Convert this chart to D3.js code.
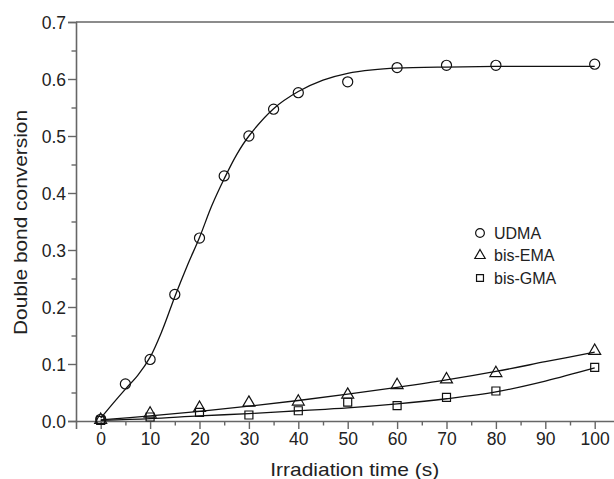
<!DOCTYPE html>
<html>
<head>
<meta charset="utf-8">
<script src="https://cdn.jsdelivr.net/npm/d3@7"></script>
<style>
  html, body { margin: 0; padding: 0; background: #fff; overflow: hidden; }
  svg { display: block; font-family: Arial, "Liberation Sans", Helvetica, sans-serif; }
</style>
</head>
<body>
<svg id="chart" width="614" height="479"></svg>
<script>
// Measured conversion values
const timeUDMA = [0, 5, 10, 15, 20, 25, 30, 35, 40, 50, 60, 70, 80, 100];
const convUDMA = [0.003, 0.065, 0.108, 0.222, 0.321, 0.430, 0.500, 0.547, 0.576, 0.595, 0.620, 0.624, 0.624, 0.626];

const timeBisEMA = [0, 10, 20, 30, 40, 50, 60, 70, 80, 100];
const convBisEMA = [0.002, 0.013, 0.023, 0.032, 0.034, 0.046, 0.063, 0.073, 0.084, 0.123];

const timeBisGMA = [0, 10, 20, 30, 40, 50, 60, 70, 80, 100];
const convBisGMA = [0.001, 0.007, 0.015, 0.0105, 0.018, 0.033, 0.027, 0.0415, 0.0526, 0.094];

// Fitted curves
const fitTimeUDMA = [0, 2.5, 5, 7.5, 10, 12.5, 15, 17.5, 20, 22.5, 25, 27.5, 30, 35, 40, 45, 50, 55, 60, 70, 80, 90, 100];
const fitUDMA = [0.005, 0.031, 0.056, 0.080, 0.112, 0.160, 0.218, 0.272, 0.322, 0.378, 0.425, 0.467, 0.500, 0.548, 0.578, 0.598, 0.610, 0.616, 0.619, 0.621, 0.622, 0.622, 0.622];

const fitTime = [0, 10, 20, 30, 40, 50, 60, 70, 80, 90, 100];
const fitBisEMA = [0.002, 0.009, 0.017, 0.026, 0.036, 0.047, 0.059, 0.072, 0.087, 0.104, 0.121];
const fitBisGMA = [0.001, 0.004, 0.009, 0.013, 0.018, 0.023, 0.030, 0.039, 0.051, 0.070, 0.093];

// Axis ticks
const xTicks = [0, 10, 20, 30, 40, 50, 60, 70, 80, 90, 100];
const xMinorTicks = [5, 15, 25, 35, 45, 55, 65, 75, 85, 95];
const yTicks = [0.0, 0.1, 0.2, 0.3, 0.4, 0.5, 0.6, 0.7];
const yMinorTicks = [0.05, 0.15, 0.25, 0.35, 0.45, 0.55, 0.65];

const seriesNames = ["UDMA", "bis-EMA", "bis-GMA"];

const svg = d3.select("#chart");
const axisColor = "#666";
const textColor = "#222";

const plotLeft = 76, plotTop = 22, plotBottom = 421;
const x = d3.scaleLinear().domain([-5, 105]).range([plotLeft, plotLeft + 110 * 4.94]);
const y = d3.scaleLinear().domain([0, 0.7]).range([plotBottom, plotTop]);

// Frame: top line and axes
svg.append("line")
  .attr("x1", x(-5)).attr("x2", x(105))
  .attr("y1", y(0.7)).attr("y2", y(0.7))
  .attr("stroke", axisColor).attr("stroke-width", 1.6);

const xAxis = svg.append("g").attr("transform", `translate(0,${plotBottom})`)
  .call(d3.axisBottom(x).tickValues(xTicks).tickSize(8).tickPadding(4).tickFormat(d3.format("d")));
const xMinor = svg.append("g").attr("transform", `translate(0,${plotBottom})`)
  .call(d3.axisBottom(x).tickValues(xMinorTicks).tickSize(4.5).tickFormat(""));

const yAxis = svg.append("g").attr("transform", `translate(${plotLeft},0)`)
  .call(d3.axisLeft(y).tickValues(yTicks).tickSize(8).tickPadding(2).tickFormat(d3.format(".1f")));
const yMinor = svg.append("g").attr("transform", `translate(${plotLeft},0)`)
  .call(d3.axisLeft(y).tickValues(yMinorTicks).tickSize(4.5).tickFormat(""));

[xAxis, xMinor, yAxis, yMinor].forEach(g => {
  g.select(".domain").attr("stroke", axisColor).attr("stroke-width", 1.6);
  g.selectAll(".tick line").attr("stroke", axisColor).attr("stroke-width", 1.4);
  g.selectAll(".tick text").attr("fill", textColor).style("font-size", "17.5px");
});
xMinor.select(".domain").remove();
yMinor.select(".domain").remove();
yAxis.selectAll(".tick text").attr("dy", "0.36em");

// Axis titles
svg.append("text")
  .attr("x", x(50) + 7).attr("y", 476)
  .attr("text-anchor", "middle")
  .attr("fill", textColor)
  .attr("textLength", 169).attr("lengthAdjust", "spacingAndGlyphs")
  .style("font-size", "19px")
  .text("Irradiation time (s)");

svg.append("text")
  .attr("transform", `translate(26.5,${(110 + 335) / 2}) rotate(-90)`)
  .attr("text-anchor", "middle")
  .attr("fill", textColor)
  .attr("textLength", 225).attr("lengthAdjust", "spacingAndGlyphs")
  .style("font-size", "19px")
  .text("Double bond conversion");

// Fitted lines
const line = d3.line().x(d => x(d[0])).y(d => y(d[1])).curve(d3.curveCatmullRom.alpha(0.5));
const fits = [
  d3.zip(fitTimeUDMA, fitUDMA),
  d3.zip(fitTime, fitBisEMA),
  d3.zip(fitTime, fitBisGMA)
];
svg.append("g").selectAll("path").data(fits).join("path")
  .attr("d", line)
  .attr("fill", "none")
  .attr("stroke", "#111")
  .attr("stroke-width", 1.3);

// Markers
const shapes = [d3.symbolCircle, d3.symbolTriangle, d3.symbolSquare];
const sizes = [80, 62, 64];
const points = [
  d3.zip(timeUDMA, convUDMA),
  d3.zip(timeBisEMA, convBisEMA),
  d3.zip(timeBisGMA, convBisGMA)
];
points.forEach((pts, i) => {
  svg.append("g").selectAll("path").data(pts).join("path")
    .attr("transform", d => `translate(${x(d[0])},${y(d[1])})`)
    .attr("d", d3.symbol().type(shapes[i]).size(sizes[i]))
    .attr("fill", "none")
    .attr("stroke", "#111")
    .attr("stroke-width", 1.2);
});

// Legend
const legend = svg.append("g").attr("transform", "translate(480,233)");
seriesNames.forEach((name, i) => {
  const g = legend.append("g").attr("transform", `translate(0,${i * 22.5})`);
  g.append("path")
    .attr("d", d3.symbol().type(shapes[i]).size(sizes[i] * 0.75))
    .attr("fill", "none").attr("stroke", "#111").attr("stroke-width", 1.2);
  g.append("text")
    .attr("x", 14).attr("dy", "0.36em")
    .attr("fill", textColor)
    .style("font-size", "16px")
    .text(name);
});
</script>
</body>
</html>
